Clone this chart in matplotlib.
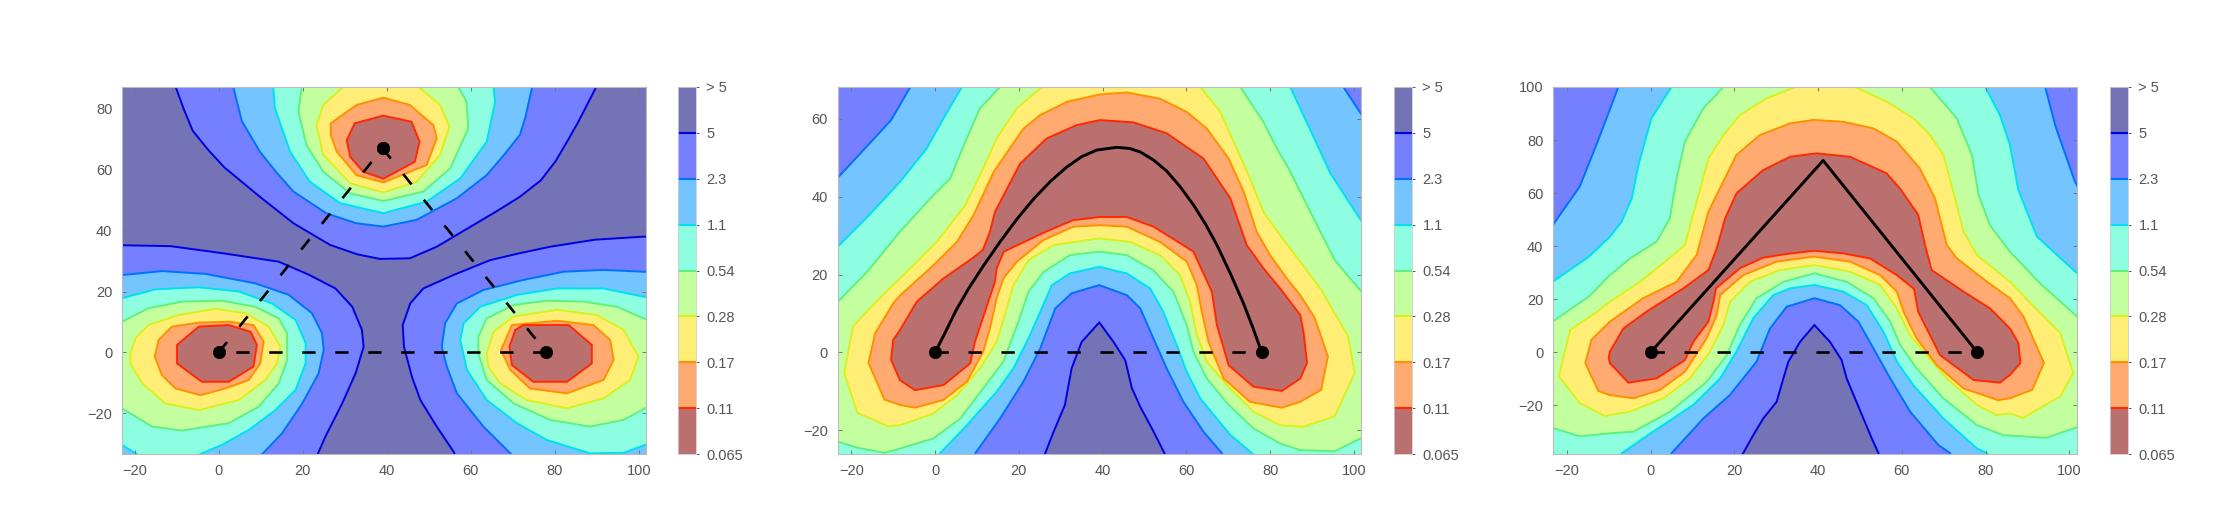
import matplotlib
matplotlib.use("Agg")
import matplotlib.pyplot as plt

plt.rcParams['font.family'] = ['Liberation Sans', 'DejaVu Sans']

# colorbar
cbar_labels = ['0.065', '0.11', '0.17', '0.28', '0.54', '1.1', '2.3', '5', '> 5']
band_colors = ['#bb7070', '#ffaa70', '#ffee75', '#c4ff9f', '#8dffe0', '#73c4ff', '#7480ff', '#7373b5']
line_colors = ['#ff2a00', '#ff9000', '#d8f020', '#60f080', '#00e0f0', '#0070ff', '#0000e0']

x_ticks = [-20, 0, 20, 40, 60, 80, 100]

# outlines, (x, y) in data units. points past the axes only close the shape
# panel 1: three wells
p1_5 = [
    [(-11, 92), (-10.2, 87), (-8.2, 79.5), (-6.2, 72.8), (-2.5, 66.5), (1.3, 60.8), (5.5, 56), (9.8, 51.1), (17.8, 42.4), (26.5, 35.3),
     (33, 32.2), (38.4, 30.7), (45.5, 30.9), (51.9, 34.7), (60.6, 41.8), (66, 46.2), (71.7, 51.1), (76.7, 56.5),
     (80.2, 62.8), (83.1, 69.6), (85.4, 75.2), (87.4, 80.5), (89.8, 87), (91, 92)],
    [(-30, 35.5), (-23.7, 35.2), (-11.5, 34.9), (1.3, 32.5), (14.3, 29.8), (21.5, 25.5), (27.8, 21), (31.8, 15), (34.1, 7.4), (34.5, 1.9),
     (32.6, -6.8), (29.4, -16.7), (25.4, -27.6), (23.4, -33.9), (22, -40), (-30, -40)],
    [(110, 38), (101, 38), (89.5, 37), (78.9, 34.7), (71.4, 32.5), (64.6, 30.3), (56, 25.5), (48.7, 21), (45.6, 16.1), (43.8, 9), (44.1, 1.9),
     (46, -8), (48, -15.6), (51.9, -24.3), (55.9, -32.5), (58, -40), (110, -40)],
]
p1_23 = [
    [(3, 92), (3.5, 87), (5.5, 76), (9.8, 65.9), (13.8, 59), (17.8, 52.8), (25.7, 45.6), (32.8, 42.4), (39.2, 41.3), (47.1, 43.5), (56.7, 50.6),
     (63.8, 58.2), (68, 65), (71.7, 71.4), (73, 77.2), (74.6, 87), (75, 92)],
    [(-30, 25), (-23, 25.4), (-13.5, 26.7), (-3.2, 25.8), (8.7, 22.7), (16.7, 18.9), (22.2, 12.9), (24.6, 6.3), (25, 0.8), (23.8, -6.8),
     (19.9, -16.7), (15.1, -26.5), (9.9, -34), (8, -40), (-30, -40)],
    [(110, 26.5), (101.1, 26.5), (91.6, 27.1), (82.1, 26.5), (72.5, 23.8), (63, 20.5), (56.7, 16.1), (53.9, 9.6), (53.1, 1.9), (54.3, -4.6),
     (56.7, -13.4), (63, -24.3), (69.8, -33.6), (71, -40), (110, -40)],
]
p1_11 = [
    [(12.7, 92), (13, 87.2), (13.4, 80.1), (17, 65.9), (21.7, 56), (28.9, 49), (39.2, 45.7), (49.5, 49.5), (57.5, 57.1), (63.8, 69.2),
     (65.8, 82.3), (65.4, 87.2), (65, 92)],
    [(-30, 17.5), (-23, 17.8), (-15.1, 20.7), (-4.7, 21.4), (4.8, 20), (12.7, 16.1), (18.3, 10.7), (20.7, 3), (20.7, -3.5), (18.3, -12.3),
     (13.5, -18.9), (7.2, -25.4), (0.8, -30.3), (-5.5, -34), (-7, -40), (-18, -40), (-19.4, -33.4), (-23, -30.3), (-30, -28)],
    [(110, 18), (101.1, 18.3), (91.6, 21), (80.5, 21), (71, 18.9), (62.2, 15), (58.3, 9.6), (57.5, 4.1), (59.1, -5.7), (63.8, -15.6),
     (71, -23.2), (78.1, -28.7), (88.4, -33.1), (96.4, -32.9), (101.5, -30.3), (110, -28)],
]
p1_054 = [
    [(20, 92), (19.8, 87.2), (19, 79), (20.9, 68.1), (24.9, 59.3), (31.3, 52.2), (39.2, 49.7), (48.7, 52.8), (55.1, 60.4), (59.4, 73.5),
     (59, 82.3), (57, 87.2), (56, 92)],
    [(-30, 7), (-23, 10.1), (-16.7, 14.5), (-8.7, 16.7), (0.8, 17), (8.7, 15), (14.3, 11.2), (16.3, 6.3), (16.3, -2.5), (14.3, -10.1),
     (9.5, -17.8), (2.4, -23.2), (-8.7, -25.6), (-15.9, -24.3), (-23, -18.3), (-30, -13)],
    [(110, 7), (101.1, 11.2), (94.8, 15), (86.8, 16.7), (78.1, 17), (70.2, 15.6), (63.8, 11.2), (61.8, 5.2), (61.8, -0.3), (63.8, -9),
     (70.2, -16.7), (78.9, -22.1), (88.4, -24.3), (96.4, -22.1), (101.5, -18.3), (110, -12)],
]
p1_028 = [
    [(31, 92), (29.7, 87.2), (24.9, 81.2), (23.3, 74.6), (24.9, 64.8), (31.3, 55.5), (39.2, 52.5), (47.1, 56), (52.7, 64.8), (54.9, 74.1),
     (52.7, 81.2), (47.5, 87.2), (46, 92)],
    [(-21, -0.3), (-19.8, 4.7), (-16.7, 9), (-9.5, 12.3), (-0.8, 14.3), (6.4, 12.9), (11.9, 8.5), (14.7, 1.9), (13.9, -3.6), (11.1, -9),
     (4.8, -15.6), (-4.7, -18.9), (-12.7, -16.7), (-18.2, -10.1), (-21, -3.6)],
    [(63.8, -0.3), (65.4, 6.8), (70.2, 11.8), (80.5, 14), (90, 12.3), (96.4, 7.4), (99.9, -1.4), (97.9, -9), (91.6, -15), (82.9, -18.3),
     (73.3, -15.6), (67, -10.1), (64.2, -4.7)],
]
p1_017 = [
    [(26.7, 75.2), (32.8, 81.2), (39.2, 83.6), (45.5, 81.2), (51.1, 74.6), (51.9, 70.3), (49.5, 61.5), (39.2, 55.8), (32.8, 58.2),
     (28.1, 65.9), (26.7, 71.3)],
    [(-15.2, -1.4), (-14.3, 4.1), (-11.1, 8.5), (-4.7, 9.8), (2.4, 10.1), (8.3, 9), (10.7, 3.6), (9.9, -3.6), (7.2, -9), (1.6, -11.8),
     (-4.3, -14), (-10.3, -11.8), (-13.5, -7.4)],
    [(67.2, 0.8), (69.8, 9), (80.5, 10.4), (89.2, 9), (93.2, 4.1), (94, -2.5), (91.6, -9), (82.9, -13.4), (74.1, -11.8), (69.4, -5.7)],
]
p1_011 = [
    [(30.5, 69.7), (32.4, 75.2), (39.2, 77.7), (45.9, 75.7), (47.8, 69.2), (46.7, 62.6), (39.2, 57), (34.4, 59.3), (31.3, 64.2)],
    [(-9.9, 2.5), (-4.7, 8.5), (2.4, 9), (7.6, 6.8), (9.1, 2.5), (8.3, -4.6), (2.4, -9.6), (-4, -9.6), (-9.9, -3.6)],
    [(69.2, 1.9), (70.6, 7.4), (72.5, 9), (83.3, 9), (88.8, 2.5), (88.8, -3.6), (82.9, -9.6), (74.9, -9.6), (69.8, -4.1)],
]

# panel 2: curved valley
p2_5 = [[(25, -32), (26.3, -25.9), (28.3, -20.4), (31, -13.5), (32.6, -4.1), (35, 2.7), (39.2, 7.7), (42.6, 2.7), (45.4, -2), (47, -9.2),
         (49, -14), (52.2, -20.4), (54.9, -26.2), (56, -32)]]
p2_23 = [[(-30, 38), (-23.4, 44.7), (-16.4, 52.8), (-10.5, 59.7), (-5.9, 68.2), (-4, 75), (96, 75), (97.5, 68.2), (101.4, 61.8),
          (108, 52), (108, -32), (69, -32), (68.5, -25.9), (64.1, -20.4), (59.3, -12.7), (55.3, -4.1), (52.5, 2.7), (49, 11.3), (45.8, 14.7),
          (39.2, 17.3), (32.6, 15.2), (28.7, 11.3), (25.1, 1), (21.1, -7.5), (15.5, -17), (9.6, -25.9), (8, -32), (-30, -32)]]
p2_11 = [[(-30, 20), (-23.6, 26.8), (-16, 35), (-8.4, 43.8), (-2, 52.4), (2, 60.1), (6.4, 68.2), (8, 75), (83, 75), (84.8, 68.2), (87.2, 62.7),
          (94.4, 46), (101.4, 34.4), (108, 25), (108, -32), (77, -32), (76, -26.2), (70.5, -21.2), (63.3, -11.8), (60.1, -5), (57.7, 1.9),
          (54.5, 10.4), (51.4, 16.4), (45.8, 20.3), (39.2, 22), (32.2, 20.3), (27.9, 17.3), (25.1, 10.4), (22.3, 3.6), (18.7, -4.1), (14.7, -10.1),
          (7.6, -18.7), (1.2, -25.9), (0, -32), (-30, -32)]]
p2_054 = [[(-30, 6), (-23.6, 12.6), (-16, 21), (-8.4, 31), (-0.4, 40.4), (3.6, 44.7), (7.2, 54.1), (10.7, 62.7), (15.5, 68.2), (18, 75), (71, 75),
           (72.9, 68.2), (78.4, 59.2), (81.6, 52.4), (84.4, 47.3), (87.2, 41.3), (92, 31), (95.4, 23.8), (101.4, 16.1), (108, 10), (108, -18),
           (101.4, -22.2), (95.4, -25.4), (87.2, -25.1), (82.4, -23.4), (76, -19.5), (70.1, -13.5), (64.9, -6.7), (61.7, 0.2), (60.1, 7),
           (56.9, 15.6), (52.1, 21.1), (45.8, 25), (39.2, 25.9), (32.2, 25), (25.9, 20.7), (22.3, 15.6), (19.9, 7.9), (16.3, -2.4), (11.5, -9.2),
           (6, -17), (-0.4, -22.1), (-8.4, -24.7), (-12.1, -25.8), (-18.5, -24.5), (-23.6, -22.8), (-30, -20)]]
p2_028 = [[(27, 75), (25.5, 68.2), (19.5, 62.7), (14.7, 55), (11.5, 47.3), (7.2, 37.8), (0.4, 28.4), (-8.4, 19), (-13.2, 14), (-19.6, 6.7),
           (-21.7, -5.3), (-18.5, -15.6), (-11.1, -19), (-8.4, -18.7), (-0.4, -15.7), (5.2, -11), (10.7, -4.1), (14.7, 2.7), (17.1, 11.3), (18.7, 17.3),
           (22.3, 23.7), (28.3, 27.6), (39.2, 29.3), (46.6, 28.4), (53.7, 25), (58.5, 19.9), (60.9, 13), (62.5, 4.5), (64.9, -2.4), (69.7, -8.4),
           (76, -15.2), (82.4, -18.7), (88, -19.1), (95.4, -16.4), (100.2, -5.3), (98.6, 4.1), (92.2, 16.1), (87.2, 23.3), (82.4, 30.1), (78.4, 36.1),
           (75.2, 44.7), (71.3, 54.1), (68.1, 61.8), (63.3, 68.2), (60, 75)]]
p2_017 = [[(-15.9, -2.7), (-14.3, 5), (-10, 12.6), (-8.4, 14.6), (-0.4, 22.4), (5.2, 28.4), (9.2, 35.3), (14, 46.4), (21.1, 57.5), (25.1, 61), (31.5, 64.4),
           (39.4, 66.3), (45.8, 66.8), (53.7, 65.2), (60.1, 61.8), (64.9, 57.5), (70.1, 49.8), (73.7, 41.3), (76.8, 31), (80, 25), (84, 19), (87.2, 14.7),
           (90.6, 9), (93.8, -1), (92.2, -9.6), (87.2, -12.7), (82.8, -14.2), (75.2, -12.7), (68.9, -6.7), (65.3, 2.7), (63.7, 10.4), (62.5, 17.3), (60.1, 23.3),
           (53.7, 28.4), (45.8, 32.3), (39.4, 32.7), (33, 32.3), (25.9, 28.9), (19.5, 23.3), (16.3, 19), (14.7, 13.9), (13.1, 6.2), (11.5, 0.2), (7.6, -7.5),
           (2, -12.2), (-4.8, -14.2), (-8.4, -13.5), (-12.1, -12.1)]]
p2_011 = [[(-10.5, -1.9), (-10, 3.2), (-8.4, 5.7), (-4.4, 13), (2, 19), (8.8, 24.1), (11.4, 26.3), (13.1, 31), (14.3, 36.1), (20.3, 48.5), (26.7, 55),
           (33.8, 58.4), (39.4, 59.7), (47.4, 59.1), (55.3, 56.3), (64.1, 49.8), (70.5, 39.6), (74.4, 27.6), (78.4, 21.6), (82.4, 16.4), (87.2, 9.6), (88, 5),
           (88.8, -2.7), (87.2, -6.7), (82.8, -9.9), (76, -8.8), (70.1, -3.3), (67.3, 7), (66.1, 15.6), (61.7, 25.9), (52.2, 32.3), (45.8, 34.8), (39.4, 34.8),
           (33, 34), (26.4, 31), (16.4, 25.9), (14.7, 21.6), (14.3, 18.2), (9.5, 2.7), (8.4, -2.8), (2, -8.4), (-4.8, -9.7), (-8.4, -7.1)]]

# panel 3: bent valley
p3_5 = [[(20, -45), (22.1, -38), (24.5, -31.2), (26.9, -24.9), (30.1, -18.6), (31.7, -9.8), (32.9, -3.5), (35.7, 4), (39.1, 10.3), (42.8, 4), (45.6, -2.9),
         (46.8, -9.8), (50.8, -24.9), (52.8, -32.4), (54.4, -38), (56, -45)]]
p3_23 = [[(-30, 38), (-23.3, 48.1), (-16.9, 62.5), (-12.5, 80), (-7.7, 100), (-6, 108), (93, 108), (94.2, 100), (96.7, 85),
          (101.3, 64.4), (108, 45), (108, -45), (73, -45), (71.5, -38), (68.7, -34.9), (62, -22.4), (57.2, -9.8), (53.2, 1.5), (49.6, 11.6), (45.2, 17.8),
          (39.1, 20.4), (32.5, 17.2), (28.5, 9), (25.3, -3.5), (18.9, -16.1), (12.6, -24.9), (5, -38), (3, -45), (-30, -45)]]
p3_11 = [[(-30, 20), (-23.3, 26.7), (-14.7, 36.1), (-9.7, 43.6), (-6.9, 49.2), (-4.5, 58), (-2.9, 70.6), (0.2, 88.2), (5, 100), (7, 108), (78, 108), (79.9, 100),
          (83.4, 89.4), (85.8, 78.1), (87.8, 61.2), (92.2, 43.7), (101.3, 30.5), (108, 24), (108, -45), (82, -45), (80.3, -38), (77.9, -36.2), (69.9, -24.9),
          (62.7, -12.3), (58.8, -3.5), (55.6, 7.8), (51.6, 17.8), (46, 22.9), (39.1, 25.4), (33.3, 24.1), (29.3, 21.6), (24.5, 12.8), (20.5, 0.3), (16.6, -9.8),
          (10.2, -19.8), (0.6, -29.9), (-6.9, -38), (-9, -45), (-30, -45)]]
p3_054 = [[(-30, 5), (-23.3, 11.7), (-14.7, 21.1), (-9.7, 29.1), (-4.9, 35.4), (1.4, 41.7), (4.6, 50.5), (6.2, 65.6), (8.2, 79.4), (12.6, 92), (17.4, 100), (18, 108),
           (65, 108), (66.7, 100), (73.1, 88.2), (76.7, 74.4), (78.3, 59.3), (81, 48), (85.8, 37.9), (93, 26), (101.3, 14.2), (108, 5), (108, -24), (101.3, -28.5),
           (94.4, -32.2), (84.2, -31.2), (77.9, -27.4), (69.9, -17.3), (63.5, -6), (59.6, 2.8), (57.2, 11.6), (53.2, 20.4), (46.8, 26.6), (39.1, 29.8), (31.7, 26.6),
           (25.3, 20.4), (21.3, 10.3), (18.2, -1), (13.4, -11.1), (4.6, -22.4), (-4.1, -29.9), (-9.7, -30.5), (-16.9, -31.6), (-23.3, -28.5), (-30, -24)]]
p3_028 = [[(36, 108), (34.5, 100), (27.7, 95.7), (21.3, 89.4), (17.4, 81.9), (13.8, 73.1), (11, 56.8), (8.2, 40.5), (5.4, 36.7), (-2.5, 26.6), (-9.7, 19.1), (-13, 15),
           (-19.2, 8.5), (-21.9, -9), (-16.9, -19.1), (-10.8, -24.1), (-9.7, -23.6), (-5, -22.4), (3, -17.3), (9.4, -9.8), (14.2, 0.3), (17.4, 10.3), (19, 19.1), (23.7, 26.6),
           (30.9, 31), (39.1, 32.9), (47.6, 30.4), (54.8, 25.4), (58.8, 16.6), (61.9, 6.5), (65.9, -1), (70.7, -9.8), (77.9, -19.8), (82.6, -23.6), (85.8, -23), (88.9, -24.7),
           (97.8, -16.6), (100.9, -7.8), (97.8, 7.3), (92, 16.5), (85.8, 26.6), (77.9, 36.7), (74.7, 45.5), (72.7, 58), (69.9, 74.4), (66.7, 81.9), (62.7, 88.2), (56.4, 94.5),
           (48.8, 100), (47, 108)]]
p3_017 = [[(-15.6, -4), (-14.1, 4.8), (-9.7, 11.6), (-1.8, 20.4), (6.2, 26.6), (11, 36.7), (13.8, 53), (20.5, 74.4), (26.1, 81.9), (33.3, 86.3), (38.9, 87.6),
           (46, 86.9), (53.2, 84.4), (58.8, 79.4), (64.3, 69.3), (67.9, 58), (70.7, 40.5), (73.1, 35.4), (80.3, 26.6), (85.8, 20.4), (89, 13.6), (93.9, -4), (91.1, -14.1),
           (85.8, -17.3), (83, -18), (74.7, -13.6), (68.3, -4.8), (63.5, 5.3), (60.4, 15.3), (58.8, 22.9), (54.8, 29.1), (47.6, 34.2), (38.9, 36.1), (30.1, 34.2), (22.1, 29.1),
           (16.6, 21.6), (15.8, 14.1), (13.4, 5.3), (8.2, -7.3), (2.2, -14.2), (-4.1, -17.3), (-9.7, -16.1), (-12.5, -14.5)]]
p3_011 = [[(-10, -2), (-9.7, 0.3), (-6.5, 9), (-1, 15.3), (7.8, 24.1), (13.8, 31), (15.8, 39.2), (17.8, 50.5), (20.5, 59.9), (26.9, 68.7), (33.3, 73.7), (39.6, 75),
           (47.6, 73.7), (56.3, 67.5), (59.5, 61.8), (63.9, 51.8), (65.5, 40.5), (67.1, 31), (74.7, 22.9), (81, 16.6), (85.8, 9), (87.8, 3.5), (88.3, -4), (85.8, -8.5), (83.4, -11.4),
           (77.1, -10.4), (69.1, -1), (63.9, 15.3), (62.9, 23.9), (58.8, 29.1), (52.4, 35.4), (46, 37.3), (39.1, 38.3), (32.5, 37.1), (26.9, 35.7), (21.3, 31.7), (15.6, 24.1),
           (15, 19.1), (13.8, 11.6), (10.2, 4), (8.2, -2.9), (1.4, -9.8), (-5.3, -11.4), (-9.7, -4.1)]]

# paths on top
p1_left = [(0, 0), (39, 67)]
p1_right = [(39, 67), (78, 0)]
p1_base = [(78, 0), (0, 0)]
p2_arc = [(0, 0), (2.5, 5.3), (5, 10.8), (8, 16.4), (11.5, 22.2), (15.5, 28.4), (19.5, 34.2), (23.5, 39.4), (27.5, 43.9), (31.4, 47.6), (35, 50.3),
          (38.6, 52), (43.4, 52.7), (46.5, 52.4), (49, 51.5), (52.2, 49.4), (55.3, 46.6), (58.5, 42.6), (61.7, 37.9), (64.5, 33.1), (67.3, 27.6),
          (70.5, 20.3), (73.6, 12.7), (75.8, 6.6), (78, 0)]
p3_arc = [(0, 0), (41.2, 72.3), (78, 0)]
base_path = [(0, 0), (78, 0)]

W, H = 2234, 508
fig = plt.figure(figsize=(W / 100, H / 100), dpi=100)

DASH = (0, (5.05, 7.45))


def px_axes(left, top, right, bottom):
    return fig.add_axes([left / W, 1 - bottom / H, (right - left) / W, (bottom - top) / H])


def draw_panel(box, cbox, xlim, ylim, yticks, background, levels):
    ax = px_axes(*box)
    ax.set_facecolor(background)
    for polys, fc, ec in levels:
        for poly in polys:
            xs, ys = zip(*poly)
            ax.fill(xs, ys, facecolor=fc, edgecolor=ec, linewidth=1.4)
    ax.set_xlim(xlim)
    ax.set_ylim(ylim)
    ax.set_xticks(x_ticks)
    ax.set_yticks(yticks)
    ax.tick_params(direction='in', length=3, width=0.7, color='#777777', labelcolor='#555555',
                   labelsize=10.5, top=True, right=True, pad=7)
    for s in ax.spines.values():
        s.set_color('#bbbbbb')
        s.set_linewidth(0.8)

    cax = px_axes(*cbox)
    for i, c in enumerate(band_colors):
        cax.bar(0.5, 1, width=1, bottom=i, color=c)
    for i, c in enumerate(line_colors):
        cax.plot([0, 1], [i + 1, i + 1], color=c, lw=1.5)
    cax.set_xlim(0, 1)
    cax.set_ylim(0, 8)
    cax.set_xticks([])
    cax.yaxis.tick_right()
    cax.set_yticks(range(9))
    cax.set_yticklabels(cbar_labels)
    cax.tick_params(length=2, width=0.7, color='#555555', labelcolor='#555555', labelsize=10.5, pad=5.5)
    for s in cax.spines.values():
        s.set_color('#cccccc')
        s.set_linewidth(0.6)
    return ax


def draw_path(ax, path, **kw):
    xs, ys = zip(*path)
    ax.plot(xs, ys, color='black', **kw)


def draw_dots(ax, path):
    xs, ys = zip(*path)
    ax.plot(xs, ys, 'o', color='black', ms=8.4, zorder=5)


dark, blue = band_colors[7], band_colors[6]

ax1 = draw_panel((122, 87, 646, 454), (678, 87, 696, 454), (-23, 101.7), (-33.3, 87.1), [-20, 0, 20, 40, 60, 80], dark, [
    (p1_5, band_colors[6], line_colors[6]), (p1_23, band_colors[5], line_colors[5]), (p1_11, band_colors[4], line_colors[4]),
    (p1_054, band_colors[3], line_colors[3]), (p1_028, band_colors[2], line_colors[2]), (p1_017, band_colors[1], line_colors[1]),
    (p1_011, band_colors[0], line_colors[0])])
draw_path(ax1, p1_left, lw=1.9, linestyle=DASH)
draw_path(ax1, p1_right, lw=1.9, linestyle=DASH)
draw_path(ax1, p1_base, lw=1.9, linestyle=DASH)
draw_dots(ax1, p1_left + p1_right)

ax2 = draw_panel((837.5, 87, 1361, 454), (1394, 87, 1412, 454), (-23.3, 101.7), (-26.1, 68.2), [-20, 0, 20, 40, 60], blue, [
    (p2_5, dark, line_colors[6]), (p2_23, band_colors[5], line_colors[5]), (p2_11, band_colors[4], line_colors[4]),
    (p2_054, band_colors[3], line_colors[3]), (p2_028, band_colors[2], line_colors[2]), (p2_017, band_colors[1], line_colors[1]),
    (p2_011, band_colors[0], line_colors[0])])
draw_path(ax2, base_path, lw=1.9, linestyle=DASH)
draw_path(ax2, p2_arc, lw=2.1)
draw_dots(ax2, base_path)

ax3 = draw_panel((1553, 87, 2077, 454), (2110, 87, 2128, 454), (-23.3, 101.8), (-38.3, 100), [-20, 0, 20, 40, 60, 80, 100], blue, [
    (p3_5, dark, line_colors[6]), (p3_23, band_colors[5], line_colors[5]), (p3_11, band_colors[4], line_colors[4]),
    (p3_054, band_colors[3], line_colors[3]), (p3_028, band_colors[2], line_colors[2]), (p3_017, band_colors[1], line_colors[1]),
    (p3_011, band_colors[0], line_colors[0])])
draw_path(ax3, base_path, lw=1.9, linestyle=DASH)
draw_path(ax3, p3_arc, lw=2.1)
draw_dots(ax3, base_path)

fig.savefig('out.png', dpi=100)
